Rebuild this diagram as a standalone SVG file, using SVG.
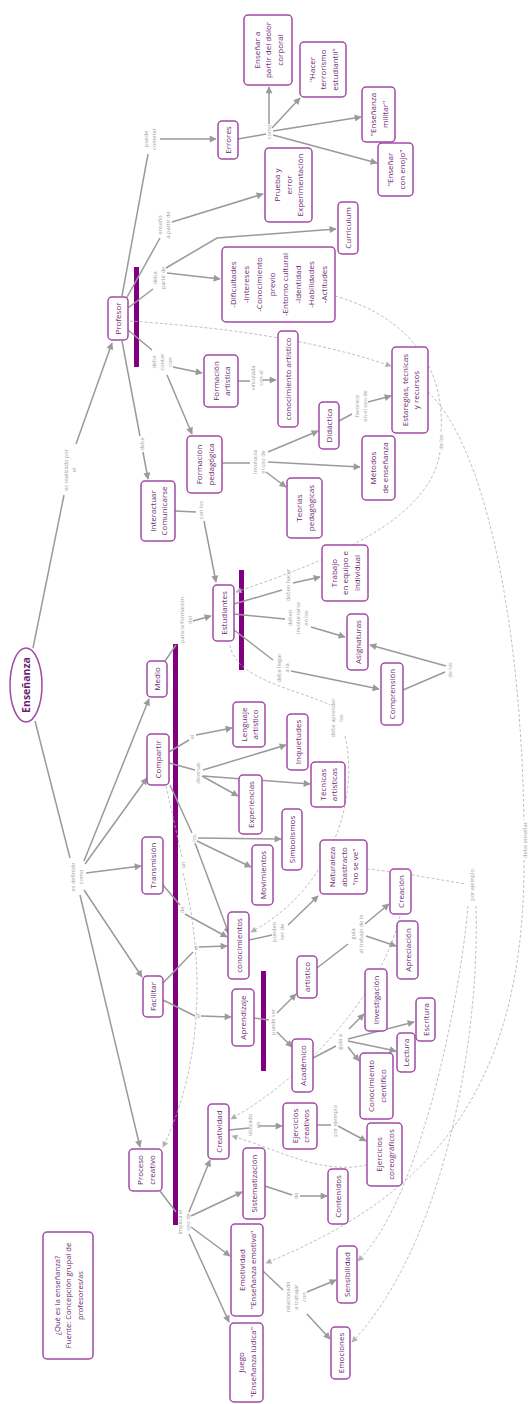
<svg xmlns="http://www.w3.org/2000/svg" width="530" height="1404" viewBox="0 0 530 1404">
<style>
.n{fill:#fff;stroke:#a14aa5;stroke-width:1.5}
.t{font-family:"Open Sans","Noto Sans",sans-serif;font-size:8px;fill:#6e1f73;text-anchor:middle}
.l{font-family:"Open Sans","Noto Sans",sans-serif;font-size:5.6px;fill:#a0a0a0;text-anchor:middle}
.c{fill:none;stroke:#9a9a9a;stroke-width:1.5}
.d{fill:none;stroke:#b0b0b0;stroke-width:0.8;stroke-dasharray:3,2}
.bar{fill:#800080}
</style>
<defs>
<marker id="ah" viewBox="0 0 10 10" refX="9" refY="5" markerWidth="9" markerHeight="7" markerUnits="userSpaceOnUse" orient="auto"><path d="M0,0 L10,5 L0,10 z" fill="#9a9a9a"/></marker>
<marker id="dh" viewBox="0 0 10 10" refX="9" refY="5" markerWidth="7" markerHeight="6" markerUnits="userSpaceOnUse" orient="auto"><path d="M0,0 L10,5 L0,10 z" fill="#b0b0b0"/></marker>
</defs>
<rect width="530" height="1404" fill="#fff"/>

<g id="bars">
<rect class="bar" x="134" y="267" width="5" height="100"/>
<rect class="bar" x="239" y="570" width="5" height="100"/>
<rect class="bar" x="173" y="644" width="5" height="581"/>
<rect class="bar" x="261" y="971" width="5" height="100"/>
</g>

<g id="connectors">
<line class="c" x1="33" y1="648" x2="64" y2="495"/>
<line class="c" x1="76" y1="444" x2="112" y2="343" marker-end="url(#ah)"/>
<line class="c" x1="122" y1="296" x2="148" y2="154"/>
<line class="c" x1="160" y1="139" x2="216" y2="139" marker-end="url(#ah)"/>
<line class="c" x1="238" y1="139" x2="266" y2="134"/>
<line class="c" x1="269" y1="124" x2="269" y2="87" marker-end="url(#ah)"/>
<line class="c" x1="272" y1="128" x2="300" y2="98" marker-end="url(#ah)"/>
<line class="c" x1="273" y1="131" x2="361" y2="117" marker-end="url(#ah)"/>
<line class="c" x1="273" y1="135" x2="377" y2="163" marker-end="url(#ah)"/>
<line class="c" x1="126" y1="299" x2="160" y2="238"/>
<line class="c" x1="172" y1="222" x2="263" y2="194" marker-end="url(#ah)"/>
<line class="c" x1="128" y1="308" x2="153" y2="289"/>
<line class="c" x1="167" y1="273" x2="220" y2="279" marker-end="url(#ah)"/>
<polyline class="c" points="166,268 217,238 336,229" marker-end="url(#ah)"/>
<line class="c" x1="128" y1="330" x2="152" y2="350"/>
<line class="c" x1="173" y1="367" x2="202" y2="373" marker-end="url(#ah)"/>
<line class="c" x1="167" y1="375" x2="192" y2="434" marker-end="url(#ah)"/>
<line class="c" x1="122" y1="341" x2="140" y2="436"/>
<line class="c" x1="143" y1="452" x2="148" y2="479" marker-end="url(#ah)"/>
<line class="c" x1="238" y1="381" x2="250" y2="381"/>
<line class="c" x1="263" y1="380" x2="276" y2="380" marker-end="url(#ah)"/>
<line class="c" x1="222" y1="463" x2="250" y2="463"/>
<line class="c" x1="268" y1="452" x2="318" y2="431" marker-end="url(#ah)"/>
<line class="c" x1="268" y1="462" x2="360" y2="467" marker-end="url(#ah)"/>
<line class="c" x1="266" y1="472" x2="286" y2="487" marker-end="url(#ah)"/>
<line class="c" x1="339" y1="421" x2="352" y2="414"/>
<line class="c" x1="368" y1="402" x2="391" y2="396" marker-end="url(#ah)"/>
<line class="c" x1="175" y1="511" x2="196" y2="512"/>
<line class="c" x1="204" y1="521" x2="216" y2="582" marker-end="url(#ah)"/>
<line class="c" x1="165" y1="661" x2="176" y2="645"/>
<line class="c" x1="193" y1="621" x2="211" y2="616" marker-end="url(#ah)"/>
<line class="c" x1="234" y1="604" x2="282" y2="590"/>
<line class="c" x1="293" y1="583" x2="320" y2="577" marker-end="url(#ah)"/>
<line class="c" x1="234" y1="614" x2="285" y2="619"/>
<line class="c" x1="311" y1="627" x2="345" y2="637" marker-end="url(#ah)"/>
<line class="c" x1="234" y1="630" x2="273" y2="660"/>
<line class="c" x1="291" y1="671" x2="379" y2="689" marker-end="url(#ah)"/>
<line class="c" x1="403" y1="690" x2="445" y2="672"/>
<line class="c" x1="446" y1="666" x2="370" y2="645" marker-end="url(#ah)"/>
<line class="c" x1="35" y1="721" x2="70" y2="858"/>
<line class="c" x1="84" y1="861" x2="149" y2="699" marker-end="url(#ah)"/>
<line class="c" x1="85" y1="864" x2="147" y2="778" marker-end="url(#ah)"/>
<line class="c" x1="86" y1="873" x2="141" y2="866" marker-end="url(#ah)"/>
<line class="c" x1="84" y1="890" x2="142" y2="977" marker-end="url(#ah)"/>
<line class="c" x1="80" y1="895" x2="140" y2="1147" marker-end="url(#ah)"/>
<line class="c" x1="169" y1="752" x2="189" y2="740"/>
<line class="c" x1="196" y1="735" x2="232" y2="728" marker-end="url(#ah)"/>
<line class="c" x1="169" y1="763" x2="195" y2="770"/>
<line class="c" x1="203" y1="770" x2="286" y2="745" marker-end="url(#ah)"/>
<line class="c" x1="202" y1="776" x2="238" y2="796" marker-end="url(#ah)"/>
<line class="c" x1="203" y1="776" x2="310" y2="784" marker-end="url(#ah)"/>
<line class="c" x1="170" y1="785" x2="192" y2="833"/>
<line class="c" x1="197" y1="841" x2="251" y2="867" marker-end="url(#ah)"/>
<line class="c" x1="198" y1="838" x2="281" y2="839" marker-end="url(#ah)"/>
<line class="c" x1="195" y1="843" x2="229" y2="934" marker-end="url(#ah)"/>
<line class="c" x1="163" y1="885" x2="180" y2="905"/>
<line class="c" x1="185" y1="914" x2="227" y2="937" marker-end="url(#ah)"/>
<line class="c" x1="163" y1="983" x2="193" y2="952"/>
<line class="c" x1="199" y1="947" x2="227" y2="946" marker-end="url(#ah)"/>
<line class="c" x1="163" y1="1000" x2="195" y2="1016"/>
<line class="c" x1="201" y1="1016" x2="231" y2="1017" marker-end="url(#ah)"/>
<line class="c" x1="254" y1="1018" x2="269" y2="1020"/>
<line class="c" x1="277" y1="1013" x2="296" y2="994" marker-end="url(#ah)"/>
<line class="c" x1="277" y1="1032" x2="292" y2="1047" marker-end="url(#ah)"/>
<line class="c" x1="249" y1="940" x2="272" y2="935"/>
<line class="c" x1="288" y1="925" x2="318" y2="896" marker-end="url(#ah)"/>
<line class="c" x1="317" y1="968" x2="348" y2="944"/>
<line class="c" x1="365" y1="924" x2="389" y2="904" marker-end="url(#ah)"/>
<line class="c" x1="366" y1="936" x2="396" y2="946" marker-end="url(#ah)"/>
<line class="c" x1="313" y1="1058" x2="336" y2="1046"/>
<line class="c" x1="349" y1="1029" x2="364" y2="1014" marker-end="url(#ah)"/>
<line class="c" x1="348" y1="1039" x2="414" y2="1022" marker-end="url(#ah)"/>
<line class="c" x1="348" y1="1041" x2="396" y2="1051" marker-end="url(#ah)"/>
<line class="c" x1="348" y1="1047" x2="359" y2="1061" marker-end="url(#ah)"/>
<line class="c" x1="229" y1="1130" x2="249" y2="1128"/>
<line class="c" x1="259" y1="1126" x2="282" y2="1126" marker-end="url(#ah)"/>
<line class="c" x1="317" y1="1125" x2="331" y2="1125"/>
<line class="c" x1="338" y1="1126" x2="366" y2="1141" marker-end="url(#ah)"/>
<line class="c" x1="160" y1="1191" x2="176" y2="1212"/>
<line class="c" x1="189" y1="1212" x2="210" y2="1160" marker-end="url(#ah)"/>
<line class="c" x1="191" y1="1216" x2="242" y2="1192" marker-end="url(#ah)"/>
<line class="c" x1="191" y1="1227" x2="230" y2="1256" marker-end="url(#ah)"/>
<line class="c" x1="189" y1="1234" x2="229" y2="1322" marker-end="url(#ah)"/>
<line class="c" x1="265" y1="1186" x2="292" y2="1195"/>
<line class="c" x1="300" y1="1196" x2="327" y2="1196" marker-end="url(#ah)"/>
<line class="c" x1="263" y1="1271" x2="283" y2="1290"/>
<line class="c" x1="307" y1="1292" x2="336" y2="1280" marker-end="url(#ah)"/>
<line class="c" x1="307" y1="1314" x2="330" y2="1339" marker-end="url(#ah)"/>
<path class="d" d="M130,321 C200,326 300,335 391,366" marker-end="url(#dh)"/>
<path class="d" d="M335,296 C420,320 445,380 441,432"/>
<path class="d" d="M440,452 C430,520 330,560 236,592" marker-end="url(#dh)"/>
<path class="d" d="M428,392 C480,440 520,600 524,820"/>
<path class="d" d="M524,860 C525,1100 420,1200 266,1263" marker-end="url(#dh)"/>
<path class="d" d="M230,645 C235,680 300,690 330,705"/>
<path class="d" d="M345,736 C360,800 330,890 251,932" marker-end="url(#dh)"/>
<path class="d" d="M166,786 L182,857"/>
<path class="d" d="M183,873 C195,920 215,1040 163,1147" marker-end="url(#dh)"/>
<path class="d" d="M367,869 C400,872 440,880 466,884"/>
<path class="d" d="M468,906 C460,1000 420,1200 358,1261" marker-end="url(#dh)"/>
<path class="d" d="M476,906 C480,1050 440,1250 352,1342" marker-end="url(#dh)"/>
<path class="d" d="M400,916 C380,1000 300,1080 231,1119" marker-end="url(#dh)"/>
<path class="d" d="M367,1165 C320,1175 280,1150 232,1136" marker-end="url(#dh)"/>
</g>

<g id="labels">
<text class="l" transform="translate(70,470) rotate(-90)"><tspan x="0" y="-2">es realizado por</tspan><tspan x="0" y="6">el</tspan></text>
<text class="l" transform="translate(150,139) rotate(-90)"><tspan x="0" y="-2">puede</tspan><tspan x="0" y="6">cometer</tspan></text>
<text class="l" transform="translate(164,225) rotate(-90)"><tspan x="0" y="-2">enseño</tspan><tspan x="0" y="6">a partir de</tspan></text>
<text class="l" transform="translate(159,278) rotate(-90)"><tspan x="0" y="-2">debe</tspan><tspan x="0" y="6">partir de</tspan></text>
<text class="l" transform="translate(162,362) rotate(-90)"><tspan x="0" y="-6">debe</tspan><tspan x="0" y="2">contar</tspan><tspan x="0" y="10">con</tspan></text>
<text class="l" transform="translate(142,444) rotate(-90)"><tspan x="0" y="2">debe</tspan></text>
<text class="l" transform="translate(269,132) rotate(-90)"><tspan x="0" y="2">como</tspan></text>
<text class="l" transform="translate(257,378) rotate(-90)"><tspan x="0" y="-2">vinculada</tspan><tspan x="0" y="6">con el</tspan></text>
<text class="l" transform="translate(259,462) rotate(-90)"><tspan x="0" y="-2">involucra</tspan><tspan x="0" y="6">el uso de</tspan></text>
<text class="l" transform="translate(361,406) rotate(-90)"><tspan x="0" y="-2">favorece</tspan><tspan x="0" y="6">en el uso de</tspan></text>
<text class="l" transform="translate(201,510) rotate(-90)"><tspan x="0" y="2">con los</tspan></text>
<text class="l" transform="translate(186,620) rotate(-90)"><tspan x="0" y="-2">para la formación</tspan><tspan x="0" y="6">del</tspan></text>
<text class="l" transform="translate(288,585) rotate(-90)"><tspan x="0" y="2">deben hacer</tspan></text>
<text class="l" transform="translate(298,618) rotate(-90)"><tspan x="0" y="-6">deben</tspan><tspan x="0" y="2">involucrarse</tspan><tspan x="0" y="10">en los</tspan></text>
<text class="l" transform="translate(283,668) rotate(-90)"><tspan x="0" y="-2">debe llegar</tspan><tspan x="0" y="6">a la</tspan></text>
<text class="l" transform="translate(450,670) rotate(-90)"><tspan x="0" y="2">de los</tspan></text>
<text class="l" transform="translate(441,442) rotate(-90)"><tspan x="0" y="2">de los</tspan></text>
<text class="l" transform="translate(525,840) rotate(-90)"><tspan x="0" y="2">debe enseñar</tspan></text>
<text class="l" transform="translate(337,718) rotate(-90)"><tspan x="0" y="-2">debe aprender</tspan><tspan x="0" y="6">los</tspan></text>
<text class="l" transform="translate(77,877) rotate(-90)"><tspan x="0" y="-2">es definido</tspan><tspan x="0" y="6">como</tspan></text>
<text class="l" transform="translate(192,737) rotate(-90)"><tspan x="0" y="2">el</tspan></text>
<text class="l" transform="translate(198,773) rotate(-90)"><tspan x="0" y="2">diversas</tspan></text>
<text class="l" transform="translate(194,838) rotate(-90)"><tspan x="0" y="2">los</tspan></text>
<text class="l" transform="translate(183,865) rotate(-90)"><tspan x="0" y="2">un</tspan></text>
<text class="l" transform="translate(182,910) rotate(-90)"><tspan x="0" y="2">de</tspan></text>
<text class="l" transform="translate(196,948) rotate(-90)"><tspan x="0" y="2">el</tspan></text>
<text class="l" transform="translate(198,1016) rotate(-90)"><tspan x="0" y="2">el</tspan></text>
<text class="l" transform="translate(273,1022) rotate(-90)"><tspan x="0" y="2">puede ser</tspan></text>
<text class="l" transform="translate(278,932) rotate(-90)"><tspan x="0" y="-2">pueden</tspan><tspan x="0" y="6">ser de</tspan></text>
<text class="l" transform="translate(357,934) rotate(-90)"><tspan x="0" y="-2">guía</tspan><tspan x="0" y="6">al trabajo de lo</tspan></text>
<text class="l" transform="translate(340,1042) rotate(-90)"><tspan x="0" y="2">guía a</tspan></text>
<text class="l" transform="translate(472,885) rotate(-90)"><tspan x="0" y="2">por ejemplo</tspan></text>
<text class="l" transform="translate(254,1125) rotate(-90)"><tspan x="0" y="-2">utilizado</tspan><tspan x="0" y="6">en</tspan></text>
<text class="l" transform="translate(335,1121) rotate(-90)"><tspan x="0" y="2">por ejemplo</tspan></text>
<text class="l" transform="translate(184,1222) rotate(-90)"><tspan x="0" y="-2">implica el</tspan><tspan x="0" y="6">uso de</tspan></text>
<text class="l" transform="translate(296,1196) rotate(-90)"><tspan x="0" y="2">de</tspan></text>
<text class="l" transform="translate(296,1297) rotate(-90)"><tspan x="0" y="-6">relacionado</tspan><tspan x="0" y="2">a trabajar</tspan><tspan x="0" y="10">con</tspan></text>
</g>

<g id="ensenanza"><ellipse class="n" cx="26" cy="685" rx="16" ry="37"/><text class="t" style="font-weight:bold;font-size:10.5px" transform="translate(26,685) rotate(-90)"><tspan x="0" y="4">Enseñanza</tspan></text></g>
<g id="profesor"><rect class="n" x="108" y="297" width="20" height="43" rx="4"/><text class="t" transform="translate(118,318.5) rotate(-90)"><tspan x="0" y="3">Profesor</tspan></text></g>
<g id="errores"><rect class="n" x="218" y="121" width="20" height="38" rx="4"/><text class="t" transform="translate(228,140) rotate(-90)"><tspan x="0" y="3">Errores</tspan></text></g>
<g id="dolor"><rect class="n" x="244" y="15" width="48" height="70" rx="4"/><text class="t" transform="translate(268,50) rotate(-90)"><tspan x="0" y="-8.5">Enseñar a</tspan><tspan x="0" y="3">partir del dolor</tspan><tspan x="0" y="14.5">corporal</tspan></text></g>
<g id="terrorismo"><rect class="n" x="300" y="42" width="46" height="55" rx="4"/><text class="t" transform="translate(323,69.5) rotate(-90)"><tspan x="0" y="-8.5">"Hacer</tspan><tspan x="0" y="3">terrorismo</tspan><tspan x="0" y="14.5">estudiantil"</tspan></text></g>
<g id="militar"><rect class="n" x="362" y="87" width="33" height="55" rx="4"/><text class="t" transform="translate(378.5,114.5) rotate(-90)"><tspan x="0" y="-2.5">"Enseñanza</tspan><tspan x="0" y="9">militar"</tspan></text></g>
<g id="enojo"><rect class="n" x="378" y="143" width="35" height="53" rx="4"/><text class="t" transform="translate(395.5,169.5) rotate(-90)"><tspan x="0" y="-2.5">"Enseñar</tspan><tspan x="0" y="9">con enojo"</tspan></text></g>
<g id="prueba"><rect class="n" x="265" y="148" width="47" height="74" rx="4"/><text class="t" transform="translate(288.5,185) rotate(-90)"><tspan x="0" y="-8.5">Prueba y</tspan><tspan x="0" y="3">error</tspan><tspan x="0" y="14.5">Experimentación</tspan></text></g>
<g id="curriculum"><rect class="n" x="338" y="202" width="20" height="52" rx="4"/><text class="t" transform="translate(348,228) rotate(-90)"><tspan x="0" y="3">Curriculum</tspan></text></g>
<g id="dificultades"><rect class="n" x="222" y="247" width="113" height="75" rx="4"/><text class="t" transform="translate(278.5,284.5) rotate(-90)"><tspan x="0" y="-42.5">-Dificultades</tspan><tspan x="0" y="-29.5">-Intereses</tspan><tspan x="0" y="-16.5">-Conocimiento</tspan><tspan x="0" y="-3.5">previo</tspan><tspan x="0" y="9.5">-Entorno cultural</tspan><tspan x="0" y="22.5">-Identidad</tspan><tspan x="0" y="35.5">-Habilidades</tspan><tspan x="0" y="48.5">-Actitudes</tspan></text></g>
<g id="formArt"><rect class="n" x="204" y="355" width="34" height="52" rx="4"/><text class="t" transform="translate(221,381) rotate(-90)"><tspan x="0" y="-2.5">Formación</tspan><tspan x="0" y="9">artística</tspan></text></g>
<g id="conocArt"><rect class="n" x="278" y="331" width="20" height="96" rx="4"/><text class="t" transform="translate(288,379) rotate(-90)"><tspan x="0" y="3">conocimiento artístico</tspan></text></g>
<g id="formPed"><rect class="n" x="187" y="436" width="35" height="57" rx="4"/><text class="t" transform="translate(204.5,464.5) rotate(-90)"><tspan x="0" y="-2.5">Formación</tspan><tspan x="0" y="9">pedagógica</tspan></text></g>
<g id="didactica"><rect class="n" x="319" y="402" width="20" height="47" rx="4"/><text class="t" transform="translate(329,425.5) rotate(-90)"><tspan x="0" y="3">Didáctica</tspan></text></g>
<g id="estrategias"><rect class="n" x="392" y="347" width="36" height="86" rx="4"/><text class="t" transform="translate(410,390) rotate(-90)"><tspan x="0" y="-2.5">Estaregias, técnicas</tspan><tspan x="0" y="9">y recursos</tspan></text></g>
<g id="metodos"><rect class="n" x="362" y="436" width="33" height="64" rx="4"/><text class="t" transform="translate(378.5,468) rotate(-90)"><tspan x="0" y="-2.5">Métodos</tspan><tspan x="0" y="9">de enseñanza</tspan></text></g>
<g id="teorias"><rect class="n" x="287" y="478" width="35" height="60" rx="4"/><text class="t" transform="translate(304.5,508) rotate(-90)"><tspan x="0" y="-2.5">Teorías</tspan><tspan x="0" y="9">pedagógicas</tspan></text></g>
<g id="interactuar"><rect class="n" x="141" y="481" width="34" height="60" rx="4"/><text class="t" transform="translate(158,511) rotate(-90)"><tspan x="0" y="-2.5">Interactuar</tspan><tspan x="0" y="9">Comunicarse</tspan></text></g>
<g id="estudiantes"><rect class="n" x="213" y="585" width="21" height="56" rx="4"/><text class="t" transform="translate(223.5,613) rotate(-90)"><tspan x="0" y="3">Estudiantes</tspan></text></g>
<g id="trabajo"><rect class="n" x="322" y="545" width="46" height="56" rx="4"/><text class="t" transform="translate(345,573) rotate(-90)"><tspan x="0" y="-8.5">Trabajo</tspan><tspan x="0" y="3">en equipo e</tspan><tspan x="0" y="14.5">individual</tspan></text></g>
<g id="asignaturas"><rect class="n" x="347" y="614" width="21" height="56" rx="4"/><text class="t" transform="translate(357.5,642) rotate(-90)"><tspan x="0" y="3">Asignaturas</tspan></text></g>
<g id="comprension"><rect class="n" x="381" y="663" width="22" height="62" rx="4"/><text class="t" transform="translate(392,694) rotate(-90)"><tspan x="0" y="3">Comprensión</tspan></text></g>
<g id="medio"><rect class="n" x="147" y="661" width="20" height="36" rx="4"/><text class="t" transform="translate(157,679) rotate(-90)"><tspan x="0" y="3">Medio</tspan></text></g>
<g id="compartir"><rect class="n" x="147" y="734" width="22" height="51" rx="4"/><text class="t" transform="translate(158,759.5) rotate(-90)"><tspan x="0" y="3">Compartir</tspan></text></g>
<g id="transmision"><rect class="n" x="142" y="837" width="21" height="57" rx="4"/><text class="t" transform="translate(152.5,865.5) rotate(-90)"><tspan x="0" y="3">Transmisión</tspan></text></g>
<g id="lenguaje"><rect class="n" x="233" y="702" width="32" height="45" rx="4"/><text class="t" transform="translate(249,724.5) rotate(-90)"><tspan x="0" y="-2.5">Lenguaje</tspan><tspan x="0" y="9">artístico</tspan></text></g>
<g id="inquietudes"><rect class="n" x="287" y="714" width="21" height="56" rx="4"/><text class="t" transform="translate(297.5,742) rotate(-90)"><tspan x="0" y="3">Inquietudes</tspan></text></g>
<g id="experiencias"><rect class="n" x="239" y="775" width="23" height="59" rx="4"/><text class="t" transform="translate(250.5,804.5) rotate(-90)"><tspan x="0" y="3">Experiencias</tspan></text></g>
<g id="tecnicas"><rect class="n" x="311" y="762" width="34" height="45" rx="4"/><text class="t" transform="translate(328,784.5) rotate(-90)"><tspan x="0" y="-2.5">Técnicas</tspan><tspan x="0" y="9">artísticas</tspan></text></g>
<g id="movimientos"><rect class="n" x="252" y="845" width="21" height="60" rx="4"/><text class="t" transform="translate(262.5,875) rotate(-90)"><tspan x="0" y="3">Movimientos</tspan></text></g>
<g id="simbolismos"><rect class="n" x="282" y="809" width="20" height="61" rx="4"/><text class="t" transform="translate(292,839.5) rotate(-90)"><tspan x="0" y="3">Simbolismos</tspan></text></g>
<g id="naturaleza"><rect class="n" x="320" y="840" width="47" height="54" rx="4"/><text class="t" transform="translate(343.5,867) rotate(-90)"><tspan x="0" y="-8.5">Naturaleza</tspan><tspan x="0" y="3">abastracto</tspan><tspan x="0" y="14.5">"no se ve"</tspan></text></g>
<g id="conocimientos"><rect class="n" x="228" y="912" width="21" height="67" rx="4"/><text class="t" transform="translate(238.5,945.5) rotate(-90)"><tspan x="0" y="3">conocimientos</tspan></text></g>
<g id="facilitar"><rect class="n" x="143" y="976" width="20" height="41" rx="4"/><text class="t" transform="translate(153,996.5) rotate(-90)"><tspan x="0" y="3">Facilitar</tspan></text></g>
<g id="aprendizaje"><rect class="n" x="232" y="989" width="22" height="57" rx="4"/><text class="t" transform="translate(243,1017.5) rotate(-90)"><tspan x="0" y="3">Aprendizaje</tspan></text></g>
<g id="artistico"><rect class="n" x="297" y="956" width="20" height="42" rx="4"/><text class="t" transform="translate(307,977) rotate(-90)"><tspan x="0" y="3">artístico</tspan></text></g>
<g id="academico"><rect class="n" x="292" y="1039" width="21" height="53" rx="4"/><text class="t" transform="translate(302.5,1065.5) rotate(-90)"><tspan x="0" y="3">Académico</tspan></text></g>
<g id="creacion"><rect class="n" x="390" y="869" width="21" height="45" rx="4"/><text class="t" transform="translate(400.5,891.5) rotate(-90)"><tspan x="0" y="3">Creación</tspan></text></g>
<g id="apreciacion"><rect class="n" x="397" y="921" width="21" height="58" rx="4"/><text class="t" transform="translate(407.5,950) rotate(-90)"><tspan x="0" y="3">Apreciación</tspan></text></g>
<g id="investigacion"><rect class="n" x="365" y="969" width="22" height="62" rx="4"/><text class="t" transform="translate(376,1000) rotate(-90)"><tspan x="0" y="3">Investigación</tspan></text></g>
<g id="escritura"><rect class="n" x="416" y="998" width="19" height="43" rx="4"/><text class="t" transform="translate(425.5,1019.5) rotate(-90)"><tspan x="0" y="3">Escritura</tspan></text></g>
<g id="lectura"><rect class="n" x="397" y="1033" width="18" height="39" rx="4"/><text class="t" transform="translate(406,1052.5) rotate(-90)"><tspan x="0" y="3">Lectura</tspan></text></g>
<g id="cientifico"><rect class="n" x="360" y="1053" width="33" height="66" rx="4"/><text class="t" transform="translate(376.5,1086) rotate(-90)"><tspan x="0" y="-2.5">Conocimiento</tspan><tspan x="0" y="9">científico</tspan></text></g>
<g id="ejCreativos"><rect class="n" x="283" y="1103" width="34" height="46" rx="4"/><text class="t" transform="translate(300,1126) rotate(-90)"><tspan x="0" y="-2.5">Ejercicios</tspan><tspan x="0" y="9">creativos</tspan></text></g>
<g id="ejCoreo"><rect class="n" x="367" y="1123" width="35" height="63" rx="4"/><text class="t" transform="translate(384.5,1154.5) rotate(-90)"><tspan x="0" y="-2.5">Ejercicios</tspan><tspan x="0" y="9">coreográficos</tspan></text></g>
<g id="creatividad"><rect class="n" x="208" y="1104" width="21" height="55" rx="4"/><text class="t" transform="translate(218.5,1131.5) rotate(-90)"><tspan x="0" y="3">Creatividad</tspan></text></g>
<g id="proceso"><rect class="n" x="129" y="1149" width="33" height="42" rx="4"/><text class="t" transform="translate(145.5,1170) rotate(-90)"><tspan x="0" y="-2.5">Proceso</tspan><tspan x="0" y="9">creativo</tspan></text></g>
<g id="sistematizacion"><rect class="n" x="243" y="1148" width="22" height="71" rx="4"/><text class="t" transform="translate(254,1183.5) rotate(-90)"><tspan x="0" y="3">Sistematización</tspan></text></g>
<g id="contenidos"><rect class="n" x="328" y="1169" width="20" height="55" rx="4"/><text class="t" transform="translate(338,1196.5) rotate(-90)"><tspan x="0" y="3">Contenidos</tspan></text></g>
<g id="emotividad"><rect class="n" x="231" y="1224" width="32" height="92" rx="4"/><text class="t" transform="translate(247,1270) rotate(-90)"><tspan x="0" y="-2.5">Emotividad</tspan><tspan x="0" y="9">"Enseñanza emotiva"</tspan></text></g>
<g id="juego"><rect class="n" x="230" y="1323" width="33" height="79" rx="4"/><text class="t" transform="translate(246.5,1362.5) rotate(-90)"><tspan x="0" y="-2.5">Juego</tspan><tspan x="0" y="9">"Enseñanza lúdica"</tspan></text></g>
<g id="sensibilidad"><rect class="n" x="337" y="1246" width="20" height="57" rx="4"/><text class="t" transform="translate(347,1274.5) rotate(-90)"><tspan x="0" y="3">Sensibilidad</tspan></text></g>
<g id="emociones"><rect class="n" x="331" y="1327" width="19" height="52" rx="4"/><text class="t" transform="translate(340.5,1353) rotate(-90)"><tspan x="0" y="3">Emociones</tspan></text></g>
<g id="nota"><rect class="n" x="43" y="1232" width="50" height="127" rx="4"/><text class="t" style="font-size:7.6px" transform="translate(68,1295.5) rotate(-90)"><tspan x="0" y="-8.5">¿Qué es la enseñanza?</tspan><tspan x="0" y="3">Fuente: Concepción grupal de</tspan><tspan x="0" y="14.5">profesores/as</tspan></text></g>
</svg>
